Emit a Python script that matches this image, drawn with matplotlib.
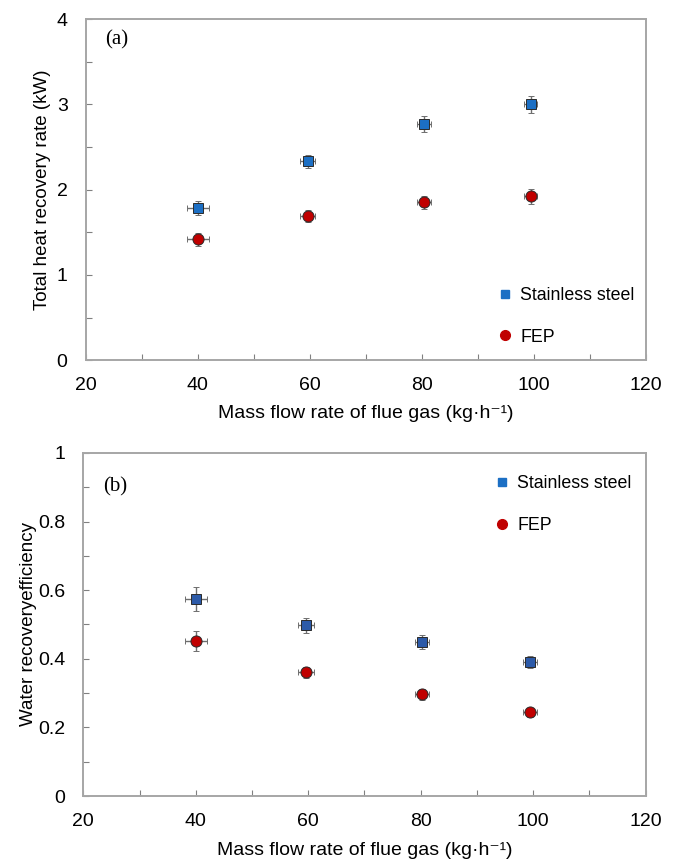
import matplotlib
matplotlib.use("Agg")
import matplotlib.pyplot as plt
from matplotlib.lines import Line2D
from matplotlib.ticker import MultipleLocator, FuncFormatter

plt.rcParams['font.family'] = ['Liberation Sans', 'DejaVu Sans']

# mass flow rate of flue gas (kg/h)
flow = [40, 59.6, 80.3, 99.4]
flow_err_ss = [2.0, 1.4, 1.25, 1.2]
flow_err_fep = [2.0, 1.4, 1.25, 1.2]

# (a) total heat recovery rate (kW)
heat_ss = [1.785, 2.33, 2.77, 3.0]
heat_ss_err = [0.08, 0.08, 0.09, 0.10]
heat_fep = [1.42, 1.69, 1.85, 1.92]
heat_fep_err = [0.075, 0.075, 0.08, 0.09]

# (b) water recovery efficiency
water_ss = [0.574, 0.498, 0.449, 0.39]
water_ss_err = [0.034, 0.022, 0.019, 0.017]
water_fep = [0.452, 0.361, 0.296, 0.244]
water_fep_err = [0.029, 0.016, 0.015, 0.014]

labels = ['Stainless steel', 'FEP']
xlab = 'Mass flow rate of flue gas (kg·h⁻¹)'
spine_col = '#a6a6a6'
err_col = '#6e6e6e'
red = '#c00000'


def style_axes(ax, ymax, ymajor, yminor):
    ax.set_xlim(20, 120)
    ax.set_ylim(0, ymax)
    ax.xaxis.set_major_locator(MultipleLocator(20))
    ax.xaxis.set_minor_locator(MultipleLocator(10))
    ax.yaxis.set_major_locator(MultipleLocator(ymajor))
    ax.yaxis.set_minor_locator(MultipleLocator(yminor))
    ax.yaxis.set_major_formatter(FuncFormatter(lambda v, p: '%g' % v))
    for s in ax.spines.values():
        s.set_color(spine_col)
        s.set_linewidth(1.4)
    ax.tick_params(which='both', direction='in', length=4, width=0.8,
                   color='#808080', labelsize=14)
    ax.tick_params(axis='x', which='major', pad=12)
    ax.tick_params(axis='y', which='major', pad=13)
    ax.tick_params(which='minor', labelleft=False, labelbottom=False)


def draw(ax, ss, ss_err, fep, fep_err, blue):
    ax.errorbar(flow, ss, yerr=ss_err, xerr=flow_err_ss, fmt='s', ms=6.8,
                mfc=blue, mec='#2a2a2a', mew=0.7, ecolor=err_col,
                elinewidth=1, capsize=2.5, capthick=1, zorder=3)
    ax.errorbar(flow, fep, yerr=fep_err, xerr=flow_err_fep, fmt='o', ms=8,
                mfc=red, mec='#2a2a2a', mew=0.7, ecolor=err_col,
                elinewidth=1, capsize=2.5, capthick=1, zorder=3)


def legend(ax, blue, anchor):
    handles = [Line2D([], [], ls='none', marker='s', ms=6, color=blue),
               Line2D([], [], ls='none', marker='o', ms=7, color=red)]
    ax.legend(handles, labels, loc='center left', bbox_to_anchor=anchor,
              frameon=False, fontsize=12.8, handlelength=0.9,
              handletextpad=0.4, labelspacing=1.4, borderpad=0,
              borderaxespad=0)


fig = plt.figure(figsize=(6.8, 8.64), dpi=100)
ax1 = fig.add_axes([0.126, 0.583, 0.824, 0.395])
ax2 = fig.add_axes([0.1225, 0.0787, 0.827, 0.397])

style_axes(ax1, 4, 1, 0.5)
draw(ax1, heat_ss, heat_ss_err, heat_fep, heat_fep_err, '#1c6fc4')
legend(ax1, '#1c6fc4', (0.734, 0.129))
ax1.set_xlabel(xlab, fontsize=14, labelpad=8)
ax1.set_ylabel('Total heat recovery rate (kW)', fontsize=13.5, labelpad=4)
ax1.text(0.035, 0.94, '(a)', transform=ax1.transAxes, fontsize=15,
         family='Liberation Serif', va='center', ha='left')

style_axes(ax2, 1, 0.2, 0.1)
draw(ax2, water_ss, water_ss_err, water_fep, water_fep_err, '#2c5aa8')
legend(ax2, '#1c6fc4', (0.731, 0.85))
ax2.set_xlabel(xlab, fontsize=14, labelpad=9)
ax2.set_ylabel('Water recoveryefficiency', fontsize=13.5, labelpad=1)
ax2.text(0.035, 0.9, '(b)', transform=ax2.transAxes, fontsize=15,
         family='Liberation Serif', va='center', ha='left')

fig.savefig('out.png', dpi=100)
